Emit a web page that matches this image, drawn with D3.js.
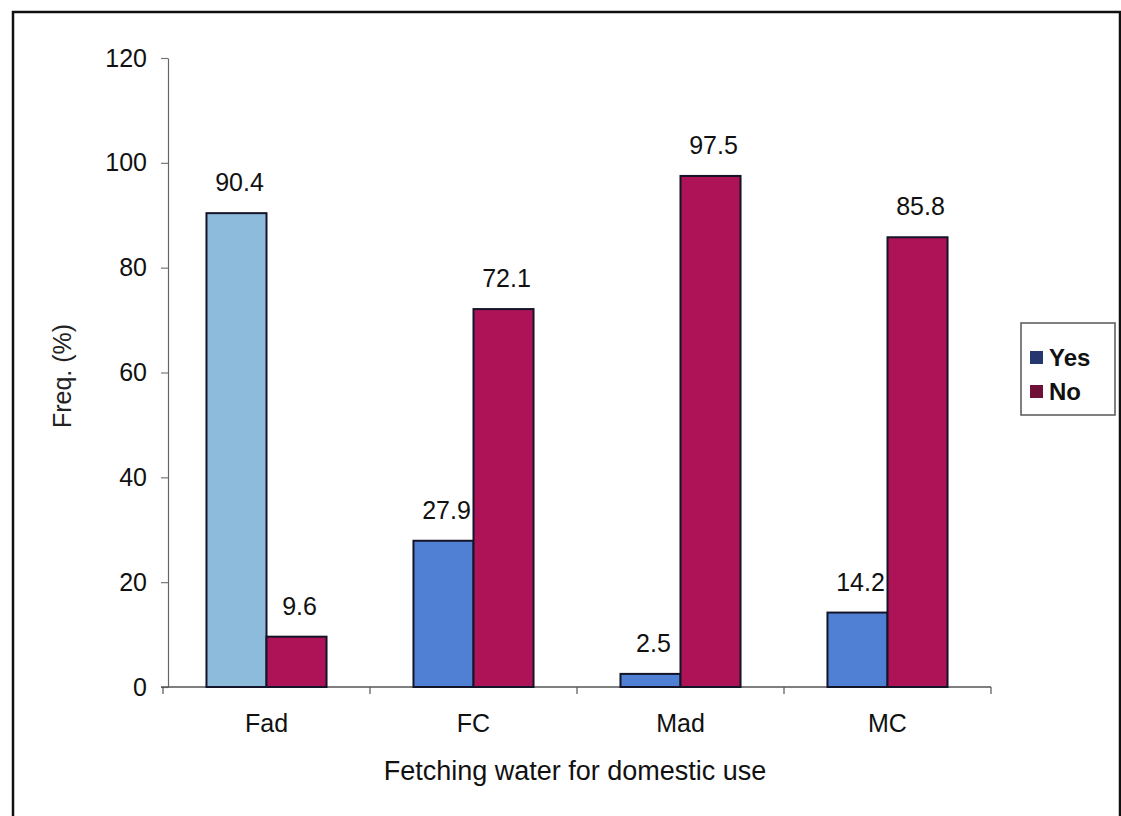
<!DOCTYPE html>
<html>
<head>
<meta charset="utf-8">
<script src="https://cdn.jsdelivr.net/npm/d3@7"></script>
<style>
  html, body { margin: 0; padding: 0; background: #fff; }
  svg { display: block; font-family: "Liberation Sans", Arial, sans-serif; }
</style>
</head>
<body>
<svg id="chart" width="1121" height="816"></svg>
<script>
// Fetching water for domestic use, by group (percent answering Yes / No)
const categories = ["Fad", "FC", "Mad", "MC"];
const seriesNames = ["Yes", "No"];
const yesValues = [90.4, 27.9, 2.5, 14.2];
const noValues = [9.6, 72.1, 97.5, 85.8];
const yTicks = [0, 20, 40, 60, 80, 100, 120];

const svg = d3.select("#chart");

// outer frame
svg.append("rect")
  .attr("x", 13).attr("y", 12)
  .attr("width", 1107).attr("height", 830)
  .attr("fill", "none").attr("stroke", "#111").attr("stroke-width", 2.5);

const plot = { left: 168, right: 991, top: 58, bottom: 687 };

const y = d3.scaleLinear().domain([0, 120]).range([plot.bottom, plot.top]);
const x = d3.scaleBand().domain(categories)
  .range([plot.left - 5, plot.right])
  .paddingInner(0.42).paddingOuter(0.21);
const xSub = d3.scaleBand().domain(seriesNames).range([0, x.bandwidth()]);

const rows = categories.map((c, i) => ({ cat: c, Yes: yesValues[i], No: noValues[i] }));

// Y axis
const yAxis = svg.append("g")
  .attr("transform", `translate(${plot.left},0)`)
  .call(d3.axisLeft(y).tickValues(yTicks).tickSize(7).tickPadding(14).tickSizeOuter(0));
yAxis.select(".domain").attr("stroke", "#666").attr("stroke-width", 1.2);
yAxis.selectAll(".tick line").attr("stroke", "#777").attr("stroke-width", 1.2);
yAxis.selectAll(".tick text")
  .attr("font-size", 25).attr("fill", "#111")
  .attr("font-family", "Liberation Sans, Arial, sans-serif");

// X axis baseline with ticks between categories
const xAxis = svg.append("g");
xAxis.append("line")
  .attr("x1", plot.left - 7).attr("x2", plot.right)
  .attr("y1", y(0)).attr("y2", y(0))
  .attr("stroke", "#555").attr("stroke-width", 1.4);
const bounds = d3.range(categories.length + 1).map(i => x.range()[0] + i * x.step());
xAxis.selectAll("line.tk").data(bounds).join("line")
  .attr("class", "tk")
  .attr("x1", d => d).attr("x2", d => d)
  .attr("y1", y(0)).attr("y2", y(0) + 7)
  .attr("stroke", "#555").attr("stroke-width", 1.2);
xAxis.selectAll("text").data(categories).join("text")
  .attr("x", d => x(d) + x.bandwidth() / 2)
  .attr("y", 732)
  .attr("text-anchor", "middle")
  .attr("font-size", 25).attr("fill", "#111")
  .text(d => d);

// bars
const yesColor = (cat) => cat === "Fad" ? "#8dbbdc" : "#5080d4";
const noColor = "#ad1356";

const groups = svg.append("g").selectAll("g").data(rows).join("g")
  .attr("transform", d => `translate(${x(d.cat)},0)`);

groups.selectAll("rect").data(d => seriesNames.map(s => ({ cat: d.cat, s, v: d[s] })))
  .join("rect")
  .attr("x", d => xSub(d.s))
  .attr("y", d => y(d.v))
  .attr("width", xSub.bandwidth())
  .attr("height", d => y(0) - y(d.v))
  .attr("fill", d => d.s === "Yes" ? yesColor(d.cat) : noColor)
  .attr("stroke", "#141428").attr("stroke-width", 2);

// value labels
groups.selectAll("text").data(d => seriesNames.map(s => ({ cat: d.cat, s, v: d[s] })))
  .join("text")
  .attr("x", d => xSub(d.s) + xSub.bandwidth() / 2 + 3)
  .attr("y", d => y(d.v) - 22)
  .attr("text-anchor", "middle")
  .attr("font-size", 25).attr("fill", "#111")
  .text(d => d.v);

// axis titles
svg.append("text")
  .attr("transform", "translate(71,376) rotate(-90)")
  .attr("text-anchor", "middle")
  .attr("font-size", 25).attr("fill", "#222")
  .text("Freq. (%)");

svg.append("text")
  .attr("x", 575).attr("y", 780)
  .attr("text-anchor", "middle")
  .attr("font-size", 27).attr("fill", "#111")
  .text("Fetching water for domestic use");

// legend
const legend = svg.append("g");
legend.append("rect")
  .attr("x", 1021).attr("y", 323).attr("width", 94).attr("height", 92)
  .attr("fill", "#fff").attr("stroke", "#555").attr("stroke-width", 1.5);
const swatchColors = ["#26366e", "#6e1038"];
const legendItems = legend.selectAll("g").data(seriesNames).join("g")
  .attr("transform", (d, i) => `translate(1030,${358 + i * 34})`);
legendItems.append("rect")
  .attr("x", 0).attr("y", -7).attr("width", 13).attr("height", 13)
  .attr("fill", (d, i) => swatchColors[i]);
legendItems.append("text")
  .attr("x", 19).attr("y", 8)
  .attr("font-size", 24).attr("font-weight", "bold").attr("fill", "#111")
  .text(d => d);
</script>
</body>
</html>
